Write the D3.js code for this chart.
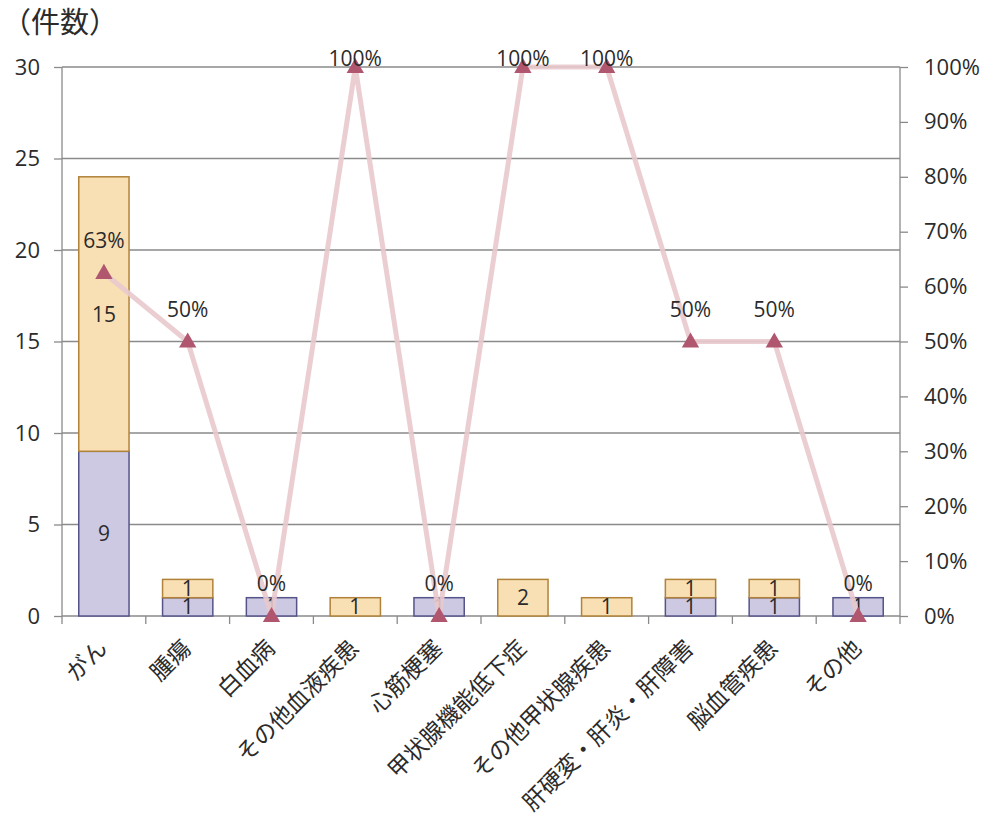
<!DOCTYPE html>
<html>
<head>
<meta charset="utf-8">
<script src="https://cdn.jsdelivr.net/npm/d3@7"></script>
<style>
  html, body { margin: 0; padding: 0; background: #fff; }
  svg text { font-family: "Noto Sans CJK JP", "Noto Sans", sans-serif; fill: #2b2b2b; }
</style>
</head>
<body>
<svg id="chart" width="998" height="825"></svg>
<script>
// Categories and counts per category
const categories = ["がん", "腫瘍", "白血病", "その他血液疾患", "心筋梗塞", "甲状腺機能低下症", "その他甲状腺疾患", "肝硬変・肝炎・肝障害", "脳血管疾患", "その他"];
const lowerCounts = [9, 1, 1, 0, 1, 0, 0, 1, 1, 1];
const upperCounts = [15, 1, 0, 1, 0, 2, 1, 1, 1, 0];
const ratioLabels = ["63%", "50%", "0%", "100%", "0%", "100%", "100%", "50%", "50%", "0%"];
const countTicks = [0, 5, 10, 15, 20, 25, 30];
const percentTicks = [0, 0.1, 0.2, 0.3, 0.4, 0.5, 0.6, 0.7, 0.8, 0.9, 1.0];

const svg = d3.select("#chart");
const plotLeft = 62, plotRight = 900, plotTop = 67, plotBottom = 616;
const numFont = "'Open Sans', 'Noto Sans', sans-serif";

const x = d3.scaleBand().domain(categories).range([plotLeft, plotRight]).paddingInner(0.4).paddingOuter(0.2);
const xOuter = d3.scaleBand().domain(categories).range([plotLeft, plotRight]);
const y = d3.scaleLinear().domain([0, 30]).range([plotBottom, plotTop]);
const y2 = d3.scaleLinear().domain([0, 1]).range([plotBottom, plotTop]);

const ratios = categories.map((c, i) => {
  const t = lowerCounts[i] + upperCounts[i];
  return t ? upperCounts[i] / t : 0;
});

// Horizontal gridlines
svg.append("g").selectAll("line").data(countTicks.filter(d => d > 0)).join("line")
  .attr("x1", plotLeft).attr("x2", plotRight)
  .attr("y1", d => y(d)).attr("y2", d => y(d))
  .attr("stroke", "#8a8a8a").attr("stroke-width", 1.3);

// Left axis
const gL = svg.append("g").attr("transform", `translate(${plotLeft},0)`)
  .call(d3.axisLeft(y).tickValues(countTicks).tickSize(8).tickPadding(14));
gL.selectAll("text").style("font-size", "22px").style("font-family", numFont).attr("fill", "#2b2b2b");
gL.selectAll("line, path").attr("stroke", "#8a8a8a").attr("stroke-width", 1.3);
gL.select(".domain").attr("d", `M0,${plotBottom}V${plotTop}`);

// Right axis
const gR = svg.append("g").attr("transform", `translate(${plotRight},0)`)
  .call(d3.axisRight(y2).tickValues(percentTicks).tickFormat(d3.format(".0%")).tickSize(8).tickPadding(16));
gR.selectAll("text").style("font-size", "22px").style("font-family", numFont).attr("fill", "#2b2b2b");
gR.selectAll("line, path").attr("stroke", "#8a8a8a").attr("stroke-width", 1.3);
gR.select(".domain").attr("d", `M0,${plotBottom}V${plotTop}`);

// Bottom axis: ticks at category boundaries
const gB = svg.append("g");
gB.append("line").attr("x1", plotLeft).attr("x2", plotRight).attr("y1", plotBottom).attr("y2", plotBottom)
  .attr("stroke", "#8a8a8a").attr("stroke-width", 1.3);
gB.selectAll("line.tk").data(categories.concat(["end"])).join("line").attr("class", "tk")
  .attr("x1", (d, i) => plotLeft + i * xOuter.step()).attr("x2", (d, i) => plotLeft + i * xOuter.step())
  .attr("y1", plotBottom).attr("y2", plotBottom + 8)
  .attr("stroke", "#8a8a8a").attr("stroke-width", 1.3);

// Category labels, rotated
gB.selectAll("text").data(categories).join("text")
  .attr("transform", d => `translate(${xOuter(d) + xOuter.bandwidth() / 2 - 1},${plotBottom + 28}) rotate(-45)`)
  .attr("text-anchor", "end")
  .attr("dy", "0.35em")
  .style("font-size", "23px")
  .text(d => d);

// Title
svg.append("text").attr("x", 2).attr("y", 33).style("font-size", "29px").text("（件数）");

// Stacked bars
const bars = svg.append("g");
categories.forEach((c, i) => {
  const lo = lowerCounts[i], up = upperCounts[i];
  if (lo > 0) {
    bars.append("rect").attr("x", x(c)).attr("width", x.bandwidth())
      .attr("y", y(lo)).attr("height", y(0) - y(lo))
      .attr("fill", "#cdc9e2").attr("stroke", "#54548a").attr("stroke-width", 1.5);
  }
  if (up > 0) {
    bars.append("rect").attr("x", x(c)).attr("width", x.bandwidth())
      .attr("y", y(lo + up)).attr("height", y(lo) - y(lo + up))
      .attr("fill", "#f9dfb4").attr("stroke", "#b0823a").attr("stroke-width", 1.5);
  }
});

// Segment value labels
const vl = svg.append("g").style("font-size", "21px").attr("text-anchor", "middle");
categories.forEach((c, i) => {
  const lo = lowerCounts[i], up = upperCounts[i];
  const cx = x(c) + x.bandwidth() / 2;
  if (lo > 0) vl.append("text").attr("x", cx).attr("y", y(lo / 2)).attr("dy", "0.36em")
    .style("font-family", numFont).text(lo);
  if (up > 0) vl.append("text").attr("x", cx).attr("y", y(lo + up / 2)).attr("dy", "0.36em")
    .style("font-family", numFont).text(up);
});

// Ratio line
const cxs = categories.map(c => xOuter(c) + xOuter.bandwidth() / 2);
svg.append("path")
  .attr("d", d3.line().x((d, i) => cxs[i]).y(d => y2(d))(ratios))
  .attr("fill", "none").attr("stroke", "#e9c9cd").attr("stroke-width", 5)
  .attr("stroke-linejoin", "round").attr("opacity", 0.9);

// Triangle markers
svg.append("g").selectAll("path").data(ratios).join("path")
  .attr("d", d3.symbol().type(d3.symbolTriangle).size(130))
  .attr("transform", (d, i) => `translate(${cxs[i]},${y2(d) + 1})`)
  .attr("fill", "#b0566f");

// Ratio labels (kept inside the plot at the top)
svg.append("g").selectAll("text").data(ratios).join("text")
  .attr("x", (d, i) => cxs[i]).attr("y", d => Math.max(y2(d) - 25, plotTop - 1))
  .attr("text-anchor", "middle")
  .style("font-size", "21px").style("font-family", numFont)
  .text((d, i) => ratioLabels[i]);
</script>
</body>
</html>
